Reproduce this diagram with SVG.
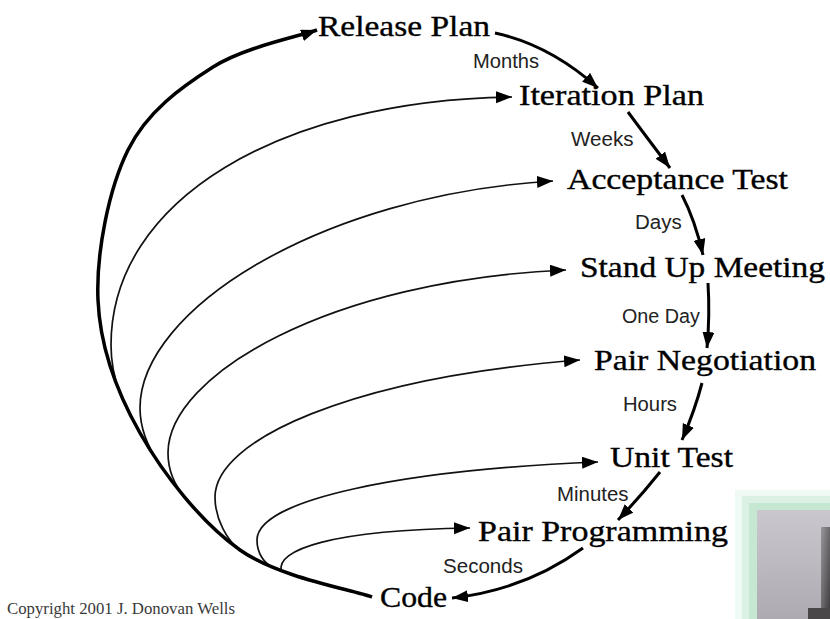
<svg xmlns="http://www.w3.org/2000/svg" width="830" height="619" viewBox="0 0 830 619">
<defs>
<marker id="ah" markerUnits="userSpaceOnUse" markerWidth="18" markerHeight="14" refX="16" refY="6" orient="auto">
<path d="M0,0 L16,6 L0,12 z" fill="#000"/>
</marker>
<linearGradient id="gbox" x1="0" y1="0" x2="0" y2="1">
<stop offset="0" stop-color="#cbc7cf"/>
<stop offset="1" stop-color="#aeaab1"/>
</linearGradient>
<linearGradient id="gdark" x1="0" y1="0" x2="1" y2="1">
<stop offset="0" stop-color="#9a969c"/>
<stop offset="1" stop-color="#3c393b"/>
</linearGradient>
</defs>
<style>
.node{font-family:"Liberation Serif","Times New Roman",serif;font-size:28.5px;fill:#000;stroke:#000;stroke-width:0.35}
.dur{font-family:"Liberation Sans",Arial,sans-serif;font-size:19.5px;fill:#222}
.thick{fill:none;stroke:#000;stroke-width:3.5}
.step{fill:none;stroke:#000;stroke-width:3;marker-end:url(#ah)}
.thin{fill:none;stroke:#111;stroke-width:1.7;marker-end:url(#ah)}
.copy{font-family:"Liberation Serif","Times New Roman",serif;font-size:17px;fill:#3a3a3a}
</style>
<rect width="830" height="619" fill="#fff"/>

<g id="screen-corner">
<rect x="735" y="490" width="95" height="129" fill="#f0faf4"/>
<rect x="742" y="496" width="88" height="123" fill="#dbf1e3"/>
<rect x="749" y="503" width="81" height="116" fill="#c6e7d2"/>
<rect x="757" y="510" width="73" height="109" fill="url(#gbox)"/>
<rect x="821" y="527" width="9" height="92" fill="url(#gdark)"/>
<rect x="808" y="608" width="22" height="11" fill="#4a4749"/>
</g>

<g id="connectors">
<path class="thin" d="M140,433 C128,412 111,385 111,345 C111,200 280,100 512,97"/>
<path class="thin" d="M160.2,465.1 C151,452 140,432 140,408 C140,310 320,195 553,181"/>
<path class="thin" d="M184.4,496.9 C175,485.4 168,470 168,453 C168,375 330,280 566,270"/>
<path class="thin" d="M240,550 C228,541.5 215,520 215,497 C215,440 350,378 580,360"/>
<path class="thin" d="M273.8,567.8 C264,563.8 257,553 257,540 C257,500 400,470 598,462"/>
<path class="thin" d="M281.4,570.7 C276,550 330,530 470,528"/>
<path class="thick" marker-end="url(#ah)" d="M372,597 C350,589.2 278.7,577.3 240,550 C201.3,522.7 163.7,474.7 140,433 C116.3,391.3 100,347.2 98,300 C96,252.8 108.8,188.8 128,150 C147.2,111.2 181.5,87 213,67 C244.5,47 299.7,36.2 317,30"/>
<path class="step" d="M495,33 Q550,45 598,88"/>
<path class="step" d="M628,112 Q645,135 670,168"/>
<path class="step" d="M682,195 Q695,220 703,255"/>
<path class="step" d="M708,283 Q710,315 707,348"/>
<path class="step" d="M702,383 Q695,410 682,440"/>
<path class="step" d="M660,472 Q640,497 618,520"/>
<path class="step" d="M583,548 Q525,590 452,598"/>
</g>

<g id="labels">
<text class="dur" x="473" y="68" textLength="66" lengthAdjust="spacingAndGlyphs">Months</text>
<text class="dur" x="571" y="146" textLength="62.5" lengthAdjust="spacingAndGlyphs">Weeks</text>
<text class="dur" x="635" y="229" textLength="46.7" lengthAdjust="spacingAndGlyphs">Days</text>
<text class="dur" x="622" y="322.5" textLength="78" lengthAdjust="spacingAndGlyphs">One Day</text>
<text class="dur" x="623" y="410.5" textLength="54" lengthAdjust="spacingAndGlyphs">Hours</text>
<text class="dur" x="557" y="501" textLength="71.5" lengthAdjust="spacingAndGlyphs">Minutes</text>
<text class="dur" x="443" y="572.5" textLength="80" lengthAdjust="spacingAndGlyphs">Seconds</text>
</g>

<g id="node-release-plan"><text class="node" x="318" y="36" textLength="172" lengthAdjust="spacingAndGlyphs">Release Plan</text></g>
<g id="node-iteration-plan"><text class="node" x="519" y="105" textLength="185" lengthAdjust="spacingAndGlyphs">Iteration Plan</text></g>
<g id="node-acceptance-test"><text class="node" x="567" y="189" textLength="221" lengthAdjust="spacingAndGlyphs">Acceptance Test</text></g>
<g id="node-stand-up-meeting"><text class="node" x="580" y="277" textLength="245" lengthAdjust="spacingAndGlyphs">Stand Up Meeting</text></g>
<g id="node-pair-negotiation"><text class="node" x="594" y="370" textLength="222" lengthAdjust="spacingAndGlyphs">Pair Negotiation</text></g>
<g id="node-unit-test"><text class="node" x="610" y="467" textLength="123" lengthAdjust="spacingAndGlyphs">Unit Test</text></g>
<g id="node-pair-programming"><text class="node" x="478" y="541" textLength="250" lengthAdjust="spacingAndGlyphs">Pair Programming</text></g>
<g id="node-code"><text class="node" x="380" y="607" textLength="67" lengthAdjust="spacingAndGlyphs">Code</text></g>

<text class="copy" x="7" y="614" textLength="228" lengthAdjust="spacingAndGlyphs">Copyright 2001 J. Donovan Wells</text>
</svg>
